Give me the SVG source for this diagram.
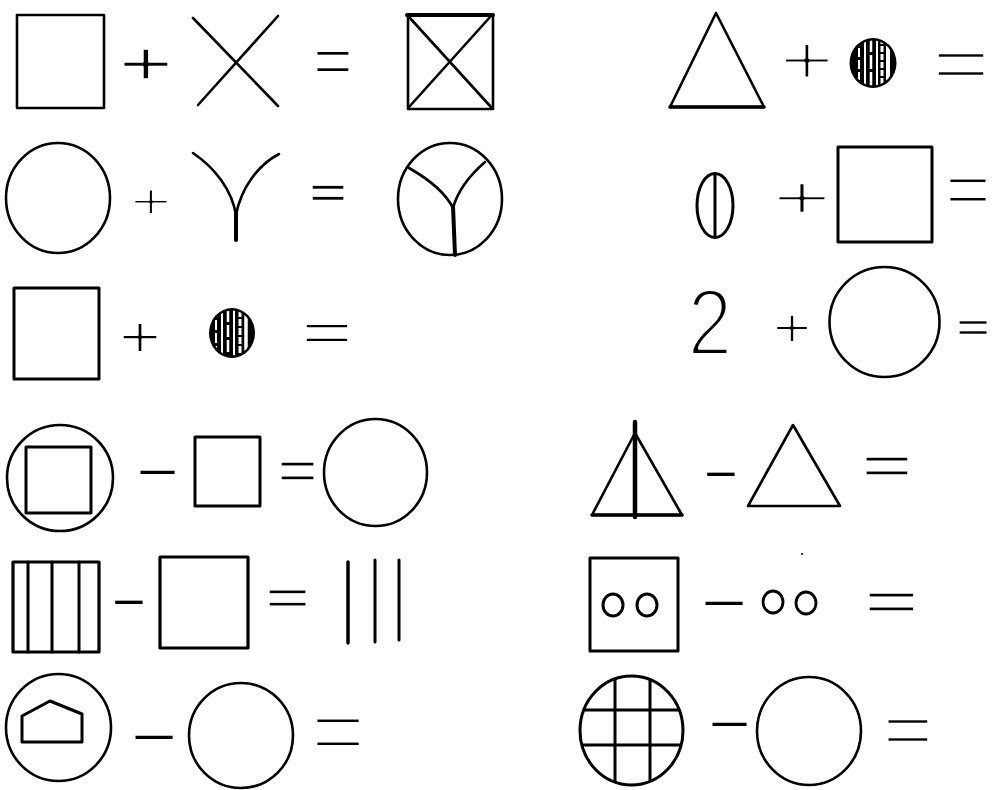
<svg xmlns="http://www.w3.org/2000/svg" width="992" height="790" viewBox="0 0 992 790">
<style>
.s{fill:none;stroke:#000;stroke-width:2.6;stroke-linejoin:round;stroke-linecap:round}
.w{stroke:#fff;stroke-linecap:butt}
.op{font-family:"Liberation Sans",Arial,sans-serif;fill:#000;stroke:#fff;stroke-linejoin:round;text-anchor:middle}
.mn{font-family:"Liberation Sans",Arial,sans-serif;fill:#000;text-anchor:middle}
</style>
<defs>
<clipPath id="c1"><ellipse cx="873" cy="63" rx="21" ry="22.5"/></clipPath>
<clipPath id="c2"><ellipse cx="232" cy="333" rx="20.5" ry="22.5"/></clipPath>
<clipPath id="c3"><ellipse cx="631.5" cy="730.5" rx="51.5" ry="54.5"/></clipPath>
</defs>
<rect width="992" height="790" fill="#fff"/>

<g id="eq1">
<rect class="s" x="17" y="15" width="87" height="93"/>
<text class="op" transform="translate(146 64) scale(1.5 1)" font-size="62" y="20.2" style="stroke-width:1.5">+</text>
<line class="s" x1="193" y1="18" x2="278" y2="106"/>
<line class="s" x1="278" y1="16" x2="198" y2="105"/>
<text class="op" transform="translate(333 61.5) scale(1.05 1)" font-size="65" y="21.2" style="stroke-width:2.1">=</text>
<rect class="s" x="408" y="15" width="85" height="94"/>
<line class="s" x1="407" y1="15" x2="493" y2="15" style="stroke-width:4"/>
<line class="s" x1="409" y1="17" x2="491" y2="107"/>
<line class="s" x1="491" y1="16" x2="409" y2="107"/>
</g>

<g id="eq2">
<polygon class="s" points="716,13 670,107 764,107"/>
<line class="s" x1="670" y1="107" x2="764" y2="107" style="stroke-width:3.5"/>
<text class="op" transform="translate(807 61) scale(1.34 1)" font-size="70" y="22.8" style="stroke-width:3">+</text>
<ellipse cx="873" cy="63" rx="23.5" ry="25" fill="#000"/>
<g clip-path="url(#c1)">
<line class="w" x1="859" y1="48" x2="859" y2="80" stroke-width="2" stroke-dasharray="9 3"/>
<line class="w" x1="865" y1="40" x2="865" y2="88" stroke-width="2"/>
<line class="w" x1="871" y1="38" x2="871" y2="90" stroke-width="2.5" stroke-dasharray="14 3"/>
<line class="w" x1="877" y1="38" x2="877" y2="90" stroke-width="2"/>
<line class="w" x1="882" y1="38" x2="882" y2="90" stroke-width="3" stroke-dasharray="6 2"/>
<line class="w" x1="888" y1="38" x2="888" y2="90" stroke-width="4"/>
</g>
<text class="op" transform="translate(961 65) scale(1.41 1)" font-size="70" y="22.8" style="stroke-width:2.5">=</text>
</g>

<g id="eq3">
<ellipse class="s" cx="58" cy="198" rx="52" ry="55"/>
<text class="op" transform="translate(151 202) scale(1.4 1)" font-size="50" y="16.3" style="stroke-width:2.1">+</text>
<path class="s" d="M193,153 C215,168 232,190 236,215 M279,154 C258,165 241,188 236,215"/>
<line class="s" x1="236" y1="212" x2="236" y2="240" style="stroke-width:4"/>
<text class="op" transform="translate(328 193.5) scale(1.45 1)" font-size="45" y="14.7" style="stroke-width:0.6">=</text>
<ellipse class="s" cx="450" cy="199" rx="52" ry="56"/>
<path class="s" d="M409,168 C430,180 445,192 453,208 M485,162 C470,175 458,190 453,208"/>
<line class="s" x1="453" y1="206" x2="455" y2="255" style="stroke-width:4"/>
</g>

<g id="eq4">
<ellipse class="s" cx="715" cy="205.5" rx="18" ry="32" style="stroke-width:3"/>
<line class="s" x1="715" y1="175" x2="715" y2="237" style="stroke-width:3"/>
<text class="op" transform="translate(802 198) scale(1.63 1)" font-size="62" y="20.2" style="stroke-width:2.5">+</text>
<rect class="s" x="838" y="147" width="94" height="95" style="stroke-width:3"/>
<text class="op" transform="translate(968 189.5) scale(1.05 1)" font-size="75" y="24.5" style="stroke-width:2.9">=</text>
</g>

<g id="eq5">
<rect class="s" x="14" y="288" width="85" height="91" style="stroke-width:3"/>
<text class="op" transform="translate(140 337) scale(1.2 1)" font-size="60" y="19.6" style="stroke-width:2">+</text>
<ellipse cx="232" cy="333" rx="23" ry="25" fill="#000"/>
<g clip-path="url(#c2)">
<line class="w" x1="216" y1="320" x2="216" y2="350" stroke-width="2" stroke-dasharray="10 3"/>
<line class="w" x1="222" y1="312" x2="222" y2="356" stroke-width="2"/>
<line class="w" x1="228" y1="310" x2="228" y2="358" stroke-width="2.5" stroke-dasharray="12 3"/>
<line class="w" x1="234" y1="310" x2="234" y2="358" stroke-width="2"/>
<line class="w" x1="240" y1="310" x2="240" y2="358" stroke-width="3" stroke-dasharray="7 2"/>
<line class="w" x1="246" y1="310" x2="246" y2="358" stroke-width="3.5"/>
</g>
<text class="op" transform="translate(327 333.5) scale(1.62 1)" font-size="55" y="17.9" style="stroke-width:1.8">=</text>
</g>

<g id="eq6">
<text class="op" transform="translate(710 354.75) scale(0.84 1)" font-size="95" style="stroke-width:3.8">2</text>
<text class="op" transform="translate(792 329) scale(1.2 1)" font-size="55" y="17.9" style="stroke-width:2">+</text>
<circle class="s" cx="884.5" cy="322" r="55"/>
<text class="op" transform="translate(973 328) scale(1.4 1)" font-size="40" y="13" style="stroke-width:0.3">=</text>
</g>

<g id="eq7">
<circle class="s" cx="60" cy="478" r="53"/>
<rect class="s" x="26" y="447" width="65" height="66" style="stroke-width:3"/>
<text class="mn" transform="translate(157.5 473) scale(3.33 1)" font-size="42" y="10.7">-</text>
<rect class="s" x="195" y="437" width="65" height="69" style="stroke-width:3"/>
<text class="op" transform="translate(297.5 471.5) scale(1.25 1)" font-size="55" y="17.9" style="stroke-width:1.3">=</text>
<ellipse class="s" cx="375.5" cy="472.5" rx="51.5" ry="53.5"/>
</g>

<g id="eq8">
<polygon class="s" points="592,515 635,433 682,515"/>
<line class="s" x1="592" y1="515" x2="682" y2="515" style="stroke-width:3.5"/>
<line class="s" x1="635" y1="422" x2="635" y2="517" style="stroke-width:4.5"/>
<text class="mn" transform="translate(721 475) scale(2.67 1)" font-size="42" y="10.7">-</text>
<polygon class="s" points="793,425 748,506 840,506"/>
<text class="op" transform="translate(887 466.5) scale(1.6 1)" font-size="55" y="17.9" style="stroke-width:1.3">=</text>
</g>

<g id="eq9">
<rect class="s" x="13" y="562" width="86" height="90" style="stroke-width:3.2"/>
<line class="s" x1="28" y1="562" x2="28" y2="652" style="stroke-width:3"/>
<line class="s" x1="52" y1="562" x2="52" y2="652" style="stroke-width:3"/>
<line class="s" x1="79" y1="562" x2="79" y2="652" style="stroke-width:3"/>
<text class="mn" transform="translate(129 603) scale(2.67 1)" font-size="42" y="10.7">-</text>
<rect class="s" x="160" y="557" width="88" height="91" style="stroke-width:3.2"/>
<text class="op" transform="translate(287.5 598) scale(1.53 1)" font-size="50" y="16.3" style="stroke-width:0.9">=</text>
<line class="s" x1="348" y1="562" x2="348" y2="643" style="stroke-width:3.5"/>
<line class="s" x1="375" y1="560" x2="375" y2="642" style="stroke-width:3"/>
<line class="s" x1="399" y1="560" x2="399" y2="640" style="stroke-width:3"/>
</g>

<g id="eq10">
<rect class="s" x="590" y="558" width="88" height="93" style="stroke-width:3"/>
<ellipse class="s" cx="613" cy="605" rx="10" ry="11" style="stroke-width:3"/>
<ellipse class="s" cx="647" cy="605" rx="10" ry="11" style="stroke-width:3"/>
<text class="mn" transform="translate(724 604) scale(3.62 1)" font-size="42" y="10.7">-</text>
<ellipse class="s" cx="773" cy="602" rx="10" ry="11" style="stroke-width:2.8"/>
<ellipse class="s" cx="806" cy="603" rx="10" ry="11" style="stroke-width:2.8"/>
<circle cx="802" cy="554" r="1" fill="#000"/>
<text class="op" transform="translate(891.5 602.5) scale(1.71 1)" font-size="55" y="17.9" style="stroke-width:1.3">=</text>
</g>

<g id="eq11">
<ellipse class="s" cx="58.5" cy="727.5" rx="52.5" ry="53.5"/>
<polygon class="s" points="22,716 50,701 82,714 82,742 22,742" style="stroke-width:3"/>
<text class="mn" transform="translate(154 738) scale(3.62 1)" font-size="42" y="10.7">-</text>
<ellipse class="s" cx="241" cy="735.5" rx="52" ry="52.5"/>
<text class="op" transform="translate(338 733) scale(1.04 1)" font-size="90" y="29.3" style="stroke-width:4">=</text>
</g>

<g id="eq12">
<g clip-path="url(#c3)">
<line class="s" x1="615" y1="670" x2="615" y2="790" style="stroke-width:3"/>
<line class="s" x1="650" y1="670" x2="650" y2="790" style="stroke-width:3"/>
<line class="s" x1="575" y1="710" x2="690" y2="710" style="stroke-width:3"/>
<line class="s" x1="575" y1="745" x2="690" y2="745" style="stroke-width:3"/>
</g>
<ellipse class="s" cx="631.5" cy="730.5" rx="51.5" ry="54.5" style="stroke-width:3"/>
<text class="mn" transform="translate(729.5 725) scale(3.33 1)" font-size="42" y="10.7">-</text>
<ellipse class="s" cx="809" cy="731" rx="52" ry="54"/>
<text class="op" transform="translate(908 731) scale(1.23 1)" font-size="70" y="22.8" style="stroke-width:2.5">=</text>
</g>
</svg>
